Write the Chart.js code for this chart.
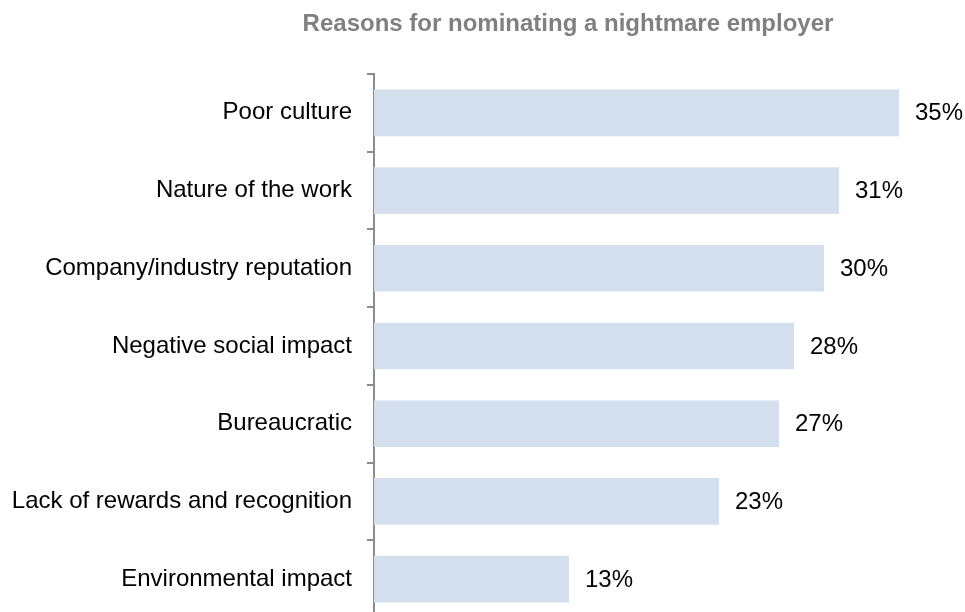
<!DOCTYPE html>
<html>
<head>
<meta charset="utf-8">
<script src="https://cdn.jsdelivr.net/npm/chart.js@4/dist/chart.umd.min.js"></script>
<style>
  html, body { margin: 0; padding: 0; background: #fff; overflow: hidden; }
  #wrap { width: 965px; height: 620px; }
</style>
</head>
<body>
<div id="wrap"><canvas id="barChart" width="965" height="620"></canvas></div>
<script>
const chartTitle = 'Reasons for nominating a nightmare employer'
const reasons = [
    'Poor culture',
    'Nature of the work',
    'Company/industry reputation',
    'Negative social impact',
    'Bureaucratic',
    'Lack of rewards and recognition',
    'Environmental impact',
]
const shares = [35, 31, 30, 28, 27, 23, 13]

const FONT = 'Arial, "Liberation Sans", sans-serif'

// value labels at the end of each bar
const valueLabels = {
    id: 'valueLabels',
    afterDatasetsDraw(chart) {
        const { ctx } = chart
        const meta = chart.getDatasetMeta(0)
        ctx.save()
        ctx.font = '24px ' + FONT
        ctx.fillStyle = '#000'
        ctx.textAlign = 'left'
        ctx.textBaseline = 'middle'
        meta.data.forEach((bar, i) => {
            ctx.fillText(shares[i] + '%', bar.x + 16, bar.y + 1)
        })
        ctx.restore()
    },
}

// title sits over the middle of the whole figure, not the plot area
const topTitle = {
    id: 'topTitle',
    afterDraw(chart) {
        const { ctx } = chart
        ctx.save()
        ctx.font = 'bold 24px ' + FONT
        ctx.fillStyle = '#808080'
        ctx.textAlign = 'center'
        ctx.textBaseline = 'alphabetic'
        ctx.fillText(chartTitle, 568, 31)
        ctx.restore()
    },
}

new Chart(document.getElementById('barChart'), {
    type: 'bar',
    data: {
        labels: reasons,
        datasets: [
            {
                data: shares,
                backgroundColor: '#d4dfee',
                borderWidth: 0,
                barPercentage: 0.6,
                categoryPercentage: 1,
            },
        ],
    },
    options: {
        indexAxis: 'y',
        responsive: false,
        animation: false,
        layout: { padding: { top: 74, right: 21, bottom: 2, left: 0 } },
        plugins: {
            legend: { display: false },
            tooltip: { enabled: false },
            title: { display: false },
        },
        scales: {
            x: {
                display: false,
                min: 0,
                max: 38,
            },
            y: {
                afterFit(scale) {
                    scale.width = 374
                    scale.paddingTop = 0
                    scale.paddingBottom = 0
                },
                border: { display: true, color: '#8c8c8c', width: 2 },
                grid: {
                    offset: true,
                    drawOnChartArea: false,
                    drawTicks: true,
                    tickLength: 7,
                    color: '#8c8c8c',
                    lineWidth: 2,
                },
                ticks: {
                    color: '#000',
                    padding: 15,
                    font: { family: FONT, size: 24 },
                },
            },
        },
    },
    plugins: [valueLabels, topTitle],
})
</script>
</body>
</html>
